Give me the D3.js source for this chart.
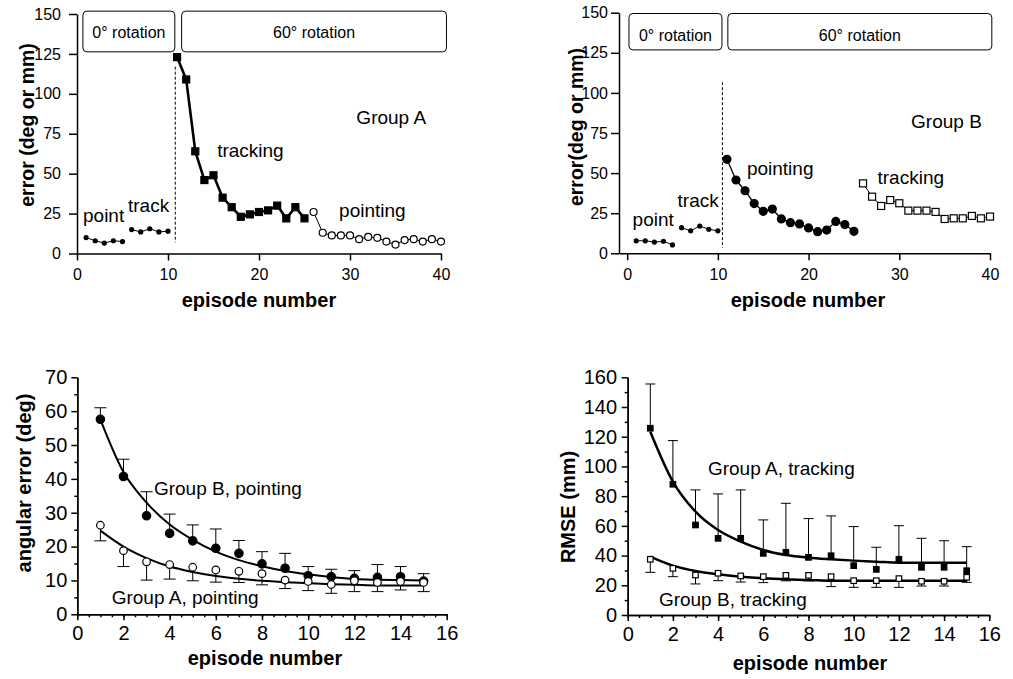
<!DOCTYPE html>
<html>
<head>
<meta charset="utf-8">
<script src="https://cdn.jsdelivr.net/npm/d3@7"></script>
<style>
  body { margin: 0; background: #fff; }
  svg { display: block; font-family: "Liberation Sans", Arial, sans-serif; }
</style>
</head>
<body>
<svg id="chart" width="1013" height="679"></svg>
<script>
// ---- top panels: episodes 1-40 ----
const epPoint = d3.range(1, 6);
const epTrack = d3.range(6, 11);
const epMid = d3.range(11, 26);
const epLate = d3.range(26, 41);

// Group A (top left)
const aPointBase = [10, 8, 6.5, 8, 7.5];
const aTrackBase = [15, 13.5, 15.5, 13.5, 14];
const aTracking = [123, 109, 64, 46, 49, 35, 29, 23, 24.5, 26, 27, 30, 22, 29, 22];
const aPointing = [26, 13, 11.3, 11.3, 11.3, 9, 10.4, 9.8, 7.5, 5.6, 8.4, 9, 7.5, 9, 7.5];

// Group B (top right)
const bPointBase = [7.8, 7.8, 7, 7.5, 5.2];
const bTrackBase = [16, 14, 17, 15, 14];
const bPointing = [58.6, 45.7, 39, 31, 26.2, 27.6, 21.4, 19.1, 18.3, 15.8, 13.5, 14.5, 19.9, 17.9, 13.7];
const bTracking = [43.6, 35.3, 29.5, 33.2, 31.2, 26.6, 26.6, 26.6, 25.8, 21.4, 21.8, 21.8, 23.3, 21.8, 22.9];

const topYTicks = [0, 25, 50, 75, 100, 125, 150];
const topXTicks = [0, 10, 20, 30, 40];

// ---- bottom panels: episodes 1-15 of 60 deg rotation ----
const epBottom = d3.range(1, 16);
const bPointMean = [57.6, 40.7, 29.1, 23.9, 21.7, 19.5, 18, 14.9, 13.6, 11.4, 11.1, 10.6, 10.9, 11.1, 9.8];
const bPointUpper = [61, 45.8, 36.2, 29.6, 26.4, 25.2, 21.8, 18.5, 18, 14.1, 13.3, 12.9, 14.7, 14.1, 12];
const bPointFit = [57.5, 42, 33, 26.5, 22, 18.5, 16, 14.2, 12.8, 11.8, 11, 10.4, 10.2, 10.1, 10];
const aPointMean = [26.3, 18.8, 15.5, 14.7, 13.9, 13.1, 12.7, 12, 10.1, 9.7, 8.8, 9.9, 9.4, 9.7, 9.4];
const aPointLower = [21.7, 14.1, 10.1, 10.4, 9.9, 9.5, 9.4, 8.7, 7.6, 7, 6.2, 6.7, 6.7, 7.2, 6.7];
const aPointFit = [24.7, 20, 16.6, 14.1, 12.5, 11.3, 10.5, 9.9, 9.5, 9.2, 8.9, 8.7, 8.5, 8.5, 8.5];

const aTrackMean = [125.7, 88, 60.6, 51.6, 51.6, 41.5, 42.2, 38.8, 39.9, 33.2, 30.7, 37.5, 32.1, 32.1, 29.8];
const aTrackUpper = [155.5, 117.4, 84.2, 81.5, 84.2, 64, 75.2, 64.9, 66.7, 59.5, 45.6, 60.1, 51.6, 50, 46];
const aTrackFit = [123.4, 89.8, 69.6, 57.2, 49.4, 43.8, 40.4, 38.6, 37.5, 36.6, 35.9, 35.2, 35.2, 35.2, 35.2];
const bTrackMean = [37.5, 31.4, 26.9, 28.1, 26.3, 25.8, 26.7, 26.7, 25.8, 23.1, 23.1, 24.5, 22.7, 22.7, 25.4];
const bTrackLower = [28.7, 25.8, 20.9, 23.1, 22.2, 21.8, 23, 23, 19.1, 18.6, 18.6, 18.6, 19.5, 19.5, 22];
const bTrackFit = [39.3, 33.2, 29.6, 27.4, 25.8, 24.7, 24, 23.6, 23, 23, 23, 23, 23, 23, 23];

const bottomXTicks = d3.range(0, 17, 2);
const angYTicks = d3.range(0, 71, 10);
const rmseYTicks = d3.range(0, 161, 20);

const svg = d3.select("#chart");

function makeAxes(p) {
  const g = svg.append("g");
  const x = d3.scaleLinear().domain(p.xDomain).range(p.xRange);
  const y = d3.scaleLinear().domain(p.yDomain).range(p.yRange);

  const styleAxis = (sel, fs) => {
    sel.attr("font-family", null).attr("font-size", fs);
    sel.selectAll("path,line").attr("stroke", "#000").attr("stroke-width", 1.5);
    sel.selectAll("text").attr("fill", "#000");
  };

  if (p.xMinor) {
    g.append("g").attr("transform", `translate(0,${p.yRange[0]})`)
      .call(d3.axisBottom(x).tickValues(p.xMinor).tickSize(3).tickSizeOuter(0).tickFormat(""))
      .call(s => styleAxis(s, p.tickFont));
  }
  if (p.yMinor) {
    g.append("g").attr("transform", `translate(${p.xRange[0]},0)`)
      .call(d3.axisLeft(y).tickValues(p.yMinor).tickSize(3).tickSizeOuter(0).tickFormat(""))
      .call(s => styleAxis(s, p.tickFont));
  }
  g.append("g").attr("transform", `translate(0,${p.yRange[0]})`)
    .call(d3.axisBottom(x).tickValues(p.xTicks).tickSize(p.xTickSize).tickPadding(p.xPad).tickSizeOuter(0))
    .call(s => styleAxis(s, p.tickFont));
  g.append("g").attr("transform", `translate(${p.xRange[0]},0)`)
    .call(d3.axisLeft(y).tickValues(p.yTicks).tickSize(p.yTickSize).tickPadding(p.yPad).tickSizeOuter(0))
    .call(s => styleAxis(s, p.tickFont));

  // axis titles
  g.append("text")
    .attr("x", p.xTitle[0]).attr("y", p.xTitle[1])
    .attr("text-anchor", "middle").attr("font-weight", "bold")
    .attr("font-size", 20).text("episode number");
  g.append("text")
    .attr("transform", `translate(${p.yTitle[0]},${p.yTitle[1]}) rotate(-90)`)
    .attr("text-anchor", "middle").attr("font-weight", "bold")
    .attr("font-size", p.yTitleFont || 20)
    .text(p.yLabel);

  return { g, x, y };
}

function drawLine(ctx, xs, ys, width, curve) {
  const line = d3.line().x((d, i) => ctx.x(xs[i])).y(d => ctx.y(d));
  if (curve) line.curve(curve);
  ctx.g.append("path").datum(ys).attr("d", line)
    .attr("fill", "none").attr("stroke", "#000").attr("stroke-width", width)
    .attr("stroke-linejoin", "round");
}

function drawCircles(ctx, xs, ys, r, filled) {
  ctx.g.append("g").selectAll("circle").data(ys).join("circle")
    .attr("cx", (d, i) => ctx.x(xs[i])).attr("cy", d => ctx.y(d)).attr("r", r)
    .attr("fill", filled ? "#000" : "#fff").attr("stroke", "#000").attr("stroke-width", 1.2);
}

function drawSquares(ctx, xs, ys, s, filled) {
  ctx.g.append("g").selectAll("rect").data(ys).join("rect")
    .attr("x", (d, i) => ctx.x(xs[i]) - s / 2).attr("y", d => ctx.y(d) - s / 2)
    .attr("width", s).attr("height", s)
    .attr("fill", filled ? "#000" : "#fff").attr("stroke", "#000").attr("stroke-width", 1.2);
}

function drawErrorBars(ctx, xs, means, ends, cap) {
  const g = ctx.g.append("g").attr("stroke", "#000").attr("stroke-width", 1);
  means.forEach((m, i) => {
    const px = ctx.x(xs[i]);
    g.append("line").attr("x1", px).attr("x2", px).attr("y1", ctx.y(m)).attr("y2", ctx.y(ends[i]));
    g.append("line").attr("x1", px - cap / 2).attr("x2", px + cap / 2)
      .attr("y1", ctx.y(ends[i])).attr("y2", ctx.y(ends[i]));
  });
}

function label(ctx, ep, val, txt, size) {
  ctx.g.append("text").attr("x", ctx.x(ep)).attr("y", ctx.y(val))
    .attr("font-size", size || 19).text(txt);
}

function rotationBoxes(ctx, boxes, dash) {
  boxes.forEach(b => {
    const x0 = ctx.x(b.from), x1 = ctx.x(b.to);
    const y0 = ctx.y(b.top), y1 = ctx.y(b.bottom);
    ctx.g.append("rect").attr("x", x0).attr("y", y0)
      .attr("width", x1 - x0).attr("height", y1 - y0).attr("rx", 4)
      .attr("fill", "#fff").attr("stroke", "#000").attr("stroke-width", 1);
    ctx.g.append("text").attr("x", (x0 + x1) / 2).attr("y", y0 + 27)
      .attr("text-anchor", "middle").attr("font-size", 16).text(b.text);
  });
  ctx.g.append("line")
    .attr("x1", ctx.x(dash.ep)).attr("x2", ctx.x(dash.ep))
    .attr("y1", ctx.y(dash.from)).attr("y2", ctx.y(dash.to))
    .attr("stroke", "#000").attr("stroke-width", 1).attr("stroke-dasharray", "3,2");
}

// ---------- top left: Group A ----------
const tl = makeAxes({
  xDomain: [0, 40], xRange: [77, 441], yDomain: [0, 150], yRange: [253.5, 14],
  xTicks: topXTicks, yTicks: topYTicks, xTickSize: 7, yTickSize: 8, xPad: 8, yPad: 8,
  tickFont: 16, xTitle: [259, 307], yTitle: [34, 125], yLabel: "error (deg or mm)", yTitleFont: 19.5
});
rotationBoxes(tl, [
  { from: 0.65, to: 10.75, top: 151.8, bottom: 126.3, text: "0° rotation" },
  { from: 11.5, to: 40.6, top: 151.8, bottom: 126.3, text: "60° rotation" }
], { ep: 10.8, from: 117, to: 7 });
drawLine(tl, epPoint, aPointBase, 1);
drawCircles(tl, epPoint, aPointBase, 2, true);
drawLine(tl, epTrack, aTrackBase, 1);
drawCircles(tl, epTrack, aTrackBase, 2, true);
drawLine(tl, epMid, aTracking, 2.6);
drawSquares(tl, epMid, aTracking, 7, true);
drawLine(tl, epLate, aPointing, 1);
drawCircles(tl, epLate, aPointing, 3.5, false);
label(tl, 0.66, 19.7, "point");
label(tl, 5.6, 26, "track");
label(tl, 15.4, 60.4, "tracking");
label(tl, 28.8, 22.9, "pointing");
label(tl, 30.7, 81, "Group A");

// ---------- top right: Group B ----------
const tr = makeAxes({
  xDomain: [-0.9, 40], xRange: [619, 990], yDomain: [0, 150], yRange: [253.3, 12.7],
  xTicks: topXTicks, yTicks: topYTicks, xTickSize: 7, yTickSize: 8, xPad: 8, yPad: 3,
  tickFont: 16, xTitle: [808, 307], yTitle: [583, 127], yLabel: "error(deg or mm)", yTitleFont: 19.5
});
rotationBoxes(tr, [
  { from: 0.2, to: 10.45, top: 149.5, bottom: 126.8, text: "0° rotation" },
  { from: 11.1, to: 40.2, top: 149.5, bottom: 126.8, text: "60° rotation" }
], { ep: 10.5, from: 106.7, to: 3.4 });
drawLine(tr, epPoint, bPointBase, 1);
drawCircles(tr, epPoint, bPointBase, 2, true);
drawLine(tr, epTrack, bTrackBase, 1);
drawCircles(tr, epTrack, bTrackBase, 2, true);
drawLine(tr, epMid, bPointing, 1.3);
drawCircles(tr, epMid, bPointing, 4, true);
drawLine(tr, epLate, bTracking, 1);
drawSquares(tr, epLate, bTracking, 7, false);
label(tr, 0.6, 17, "point");
label(tr, 5.56, 28.9, "track");
label(tr, 13.2, 48.9, "pointing");
label(tr, 27.6, 43.2, "tracking");
label(tr, 31.3, 78.2, "Group B");

// ---------- bottom left: angular error ----------
const bl = makeAxes({
  xDomain: [0, 16], xRange: [77.3, 446.7], yDomain: [0, 70], yRange: [614.3, 377.3],
  xTicks: bottomXTicks, yTicks: angYTicks, xTickSize: 6, yTickSize: 6, xPad: 5.5, yPad: 4,
  xMinor: d3.range(0, 16.01, 0.5), yMinor: d3.range(5, 70, 10),
  tickFont: 20, xTitle: [265, 665], yTitle: [31, 483], yLabel: "angular error (deg)"
});
drawErrorBars(bl, epBottom, bPointMean, bPointUpper, 12);
drawErrorBars(bl, epBottom, aPointMean, aPointLower, 12);
drawLine(bl, epBottom, bPointFit, 2, d3.curveMonotoneX);
drawLine(bl, epBottom, aPointFit, 2, d3.curveMonotoneX);
drawCircles(bl, epBottom, bPointMean, 4.2, true);
drawCircles(bl, epBottom, aPointMean, 3.8, false);
label(bl, 3.32, 35.2, "Group B, pointing");
label(bl, 1.49, 3.0, "Group A, pointing");

// ---------- bottom right: RMSE ----------
const br = makeAxes({
  xDomain: [0, 16], xRange: [627.7, 989.3], yDomain: [0, 160], yRange: [615, 377.3],
  xTicks: bottomXTicks, yTicks: rmseYTicks, xTickSize: 6, yTickSize: 6, xPad: 5.5, yPad: 4.7,
  xMinor: d3.range(0, 16.01, 0.5), yMinor: d3.range(10, 160, 20),
  tickFont: 20, xTitle: [810, 670], yTitle: [575, 507], yLabel: "RMSE (mm)"
});
drawErrorBars(br, epBottom, aTrackMean, aTrackUpper, 10);
drawErrorBars(br, epBottom, bTrackMean, bTrackLower, 10);
drawLine(br, epBottom, aTrackFit, 2.5, d3.curveMonotoneX);
drawLine(br, epBottom, bTrackFit, 2.5, d3.curveMonotoneX);
drawSquares(br, epBottom, aTrackMean, 5.5, true);
drawSquares(br, epBottom, bTrackMean, 5.5, false);
label(br, 3.55, 94.2, "Group A, tracking");
label(br, 1.38, 6.1, "Group B, tracking");
</script>
</body>
</html>
